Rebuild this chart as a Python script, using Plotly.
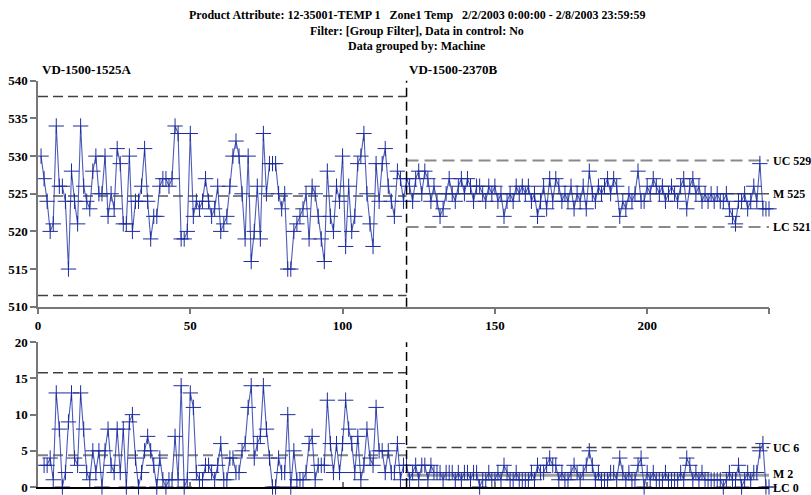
import numpy as np
import plotly.graph_objects as go

# ---------------- data ----------------
title_lines = [
    "Product Attribute: 12-35001-TEMP 1   Zone1 Temp   2/2/2003 0:00:00 - 2/8/2003 23:59:59",
    "Filter: [Group Filter], Data in control: No",
    "Data grouped by: Machine",
]
group_names = ["VD-1500-1525A", "VD-1500-2370B"]
group_bounds = [0, 121, 240]          # sample number where each machine group starts / ends

# individual readings, machine VD-1500-1525A (samples 1-120)
values_a = [
    530, 527, 524, 520, 521, 534, 526, 526, 524, 515,
    528, 524, 521, 534, 526, 524, 523, 528, 530, 525,
    525, 530, 522, 525, 523, 531, 529, 521, 521, 530,
    520, 524, 524, 526, 531, 524, 519, 522, 522, 526,
    527, 527, 526, 527, 534, 533, 519, 519, 520, 533,
    522, 524, 523, 524, 527, 524, 522, 523, 526, 520,
    521, 522, 526, 530, 532, 530, 525, 519, 530, 516,
    520, 526, 519, 533, 525, 529, 529, 529, 525, 523,
    525, 515, 515, 520, 521, 522, 523, 525, 519, 526,
    525, 522, 519, 516, 528, 522, 520, 526, 524, 530,
    518, 526, 520, 522, 529, 530, 533, 525, 521, 518,
    529, 524, 529, 531, 526, 524, 522, 528, 527, 524,
]
# individual readings, machine VD-1500-2370B (samples 121-240)
values_b = [
    527, 526, 524, 527, 528, 525, 528, 527, 524, 526,
    524, 522, 523, 525, 527, 525, 524, 526, 527, 525,
    527, 526, 524, 526, 526, 525, 524, 526, 525, 526,
    524, 525, 522, 524, 525, 524, 526, 525, 526, 525,
    526, 524, 525, 522, 524, 526, 523, 527, 524, 527,
    526, 524, 525, 524, 526, 523, 525, 524, 526, 523,
    528, 525, 524, 526, 525, 526, 527, 525, 527, 526,
    522, 524, 523, 525, 524, 525, 528, 524, 524, 526,
    525, 527, 526, 525, 526, 524, 525, 526, 525, 524,
    526, 527, 523, 526, 527, 525, 526, 524, 525, 524,
    525, 524, 525, 524, 524, 525, 523, 522, 521, 524,
    524, 525, 523, 524, 526, 524, 529, 523, 523, 523,
]

# control limits per group (individuals chart and moving-range chart)
x_ucl = [537.9, 529.4]
x_cl = [524.7, 525.0]
x_lcl = [511.5, 520.6]
mr_ucl = [15.8, 5.45]
mr_cl = [4.4, 1.62]
mr_lcl = [0.0, 0.0]
x_limit_labels = ["UC 529", "M 525", "LC 521"]
mr_limit_labels = ["UC 6", "M 2", "LC 0"]

x_ticks = [0, 50, 100, 150, 200, 240]
x_tick_text = ["0", "50", "100", "150", "200", ""]

# ---------------- build ----------------
values = np.array(values_a + values_b, dtype=float)
samples = np.arange(1, len(values) + 1)
moving_range = np.abs(np.diff(values))      # MR_i = |x_i - x_(i-1)|

SERIF = "Liberation Serif"
LINE_C = "rgba(45,62,170,0.85)"
MARK_C = "#1c2c9c"

fig = go.Figure()
fig.add_trace(go.Scatter(
    x=samples, y=values, mode="lines+markers", xaxis="x", yaxis="y",
    line=dict(color=LINE_C, width=1.1),
    marker=dict(symbol="cross-thin", size=11, color=MARK_C, line=dict(color=MARK_C, width=1)),
    cliponaxis=False, showlegend=False, hoverinfo="x+y"))
fig.add_trace(go.Scatter(
    x=samples[1:], y=moving_range, mode="lines+markers", xaxis="x2", yaxis="y2",
    line=dict(color=LINE_C, width=1.1),
    marker=dict(symbol="cross-thin", size=11, color=MARK_C, line=dict(color=MARK_C, width=1)),
    cliponaxis=False, showlegend=False, hoverinfo="x+y"))

shapes = []
styles_left = dict(lim=dict(color="#404040", width=1.5, dash="10px,5px"),
                   cl=dict(color="#808080", width=2, dash="10px,5px"))
styles_right = dict(lim=dict(color="#8a8a8a", width=2, dash="12px,6px"),
                    cl=dict(color="#555555", width=1.5, dash="solid"))
for g in range(2):
    st = styles_left if g == 0 else styles_right
    x0, x1 = group_bounds[g], group_bounds[g + 1]
    for yv, key in ((x_ucl[g], "lim"), (x_lcl[g], "lim"), (x_cl[g], "cl")):
        shapes.append(dict(type="line", xref="x", yref="y", x0=x0, x1=x1, y0=yv, y1=yv, line=st[key], layer="below"))
    mr_cl_style = st["cl"] if g == 0 else dict(color="#a0a0a0", width=3, dash="solid")
    shapes.append(dict(type="line", xref="x2", yref="y2", x0=x0, x1=x1, y0=mr_ucl[g], y1=mr_ucl[g],
                       line=dict(color="#404040", width=1.5, dash="10px,5px"), layer="below"))
    shapes.append(dict(type="line", xref="x2", yref="y2", x0=x0, x1=x1, y0=mr_cl[g], y1=mr_cl[g],
                       line=mr_cl_style, layer="below"))
# group divider
shapes.append(dict(type="line", xref="x", yref="y domain", x0=group_bounds[1], x1=group_bounds[1], y0=0, y1=1,
                   line=dict(color="black", width=1.5, dash="9px,5px")))
shapes.append(dict(type="line", xref="x2", yref="y2 domain", x0=group_bounds[1], x1=group_bounds[1], y0=0, y1=1,
                   line=dict(color="black", width=1.5, dash="9px,5px")))

ann = []
title_y = [1.1597, 1.1204, 1.0835]
for t, yy in zip(title_lines, title_y):
    ann.append(dict(text="<b>" + t + "</b>", xref="paper", yref="paper", x=0.5185, y=yy,
                    xanchor="center", yanchor="middle", showarrow=False,
                    font=dict(family=SERIF, size=12, color="black")))
ann.append(dict(text="<b>" + group_names[0] + "</b>", xref="x", yref="paper", x=group_bounds[0], y=1.0253,
                xanchor="left", yanchor="middle", xshift=2, showarrow=False,
                font=dict(family=SERIF, size=13, color="black")))
ann.append(dict(text="<b>" + group_names[1] + "</b>", xref="x", yref="paper", x=group_bounds[1], y=1.0253,
                xanchor="left", yanchor="middle", xshift=0, showarrow=False,
                font=dict(family=SERIF, size=13, color="black")))
for txt, yv in zip(x_limit_labels, [x_ucl[1], x_cl[1], x_lcl[1]]):
    ann.append(dict(text="<b>" + txt + "</b>", xref="paper", yref="y", x=1, y=yv, xanchor="left",
                    yanchor="middle", xshift=2, showarrow=False, font=dict(family=SERIF, size=12, color="black")))
for txt, yv, ys in zip(mr_limit_labels, [mr_ucl[1], mr_cl[1], mr_lcl[1]], [0, 1, -1]):
    ann.append(dict(text="<b>" + txt + "</b>", xref="paper", yref="y2", x=1, y=yv, xanchor="left",
                    yanchor="middle", xshift=2, yshift=ys, showarrow=False,
                    font=dict(family=SERIF, size=12, color="black")))

tickfont = dict(family=SERIF, size=13, color="black", weight="bold")
axis_common = dict(showgrid=False, zeroline=False, showline=True, linecolor="#777777", linewidth=1.5,
                   tickcolor="#777777", tickwidth=1.5, tickfont=tickfont, automargin=False)

fig.update_layout(
    width=811, height=495,
    margin=dict(l=38, r=42, t=80, b=8, autoexpand=False),
    paper_bgcolor="white", plot_bgcolor="white",
    xaxis=dict(domain=[0, 1], range=[group_bounds[0], group_bounds[-1]], anchor="y",
               tickvals=x_ticks, ticktext=x_tick_text, ticks="outside", ticklen=6, **axis_common),
    yaxis=dict(domain=[0.443, 0.998], range=[510, 540], dtick=5, anchor="x",
               ticks="outside", ticklen=6, **axis_common),
    xaxis2=dict(domain=[0, 1], range=[group_bounds[0], group_bounds[-1]], anchor="y2",
                tickvals=x_ticks, showticklabels=False, ticks="inside", ticklen=5, automargin=False,
                showgrid=False, zeroline=False, showline=True, linecolor="black", linewidth=1.5,
                tickcolor="#777777", tickwidth=1.5),
    yaxis2=dict(domain=[0, 0.3555], range=[0, 20], dtick=5, anchor="x2",
                ticks="outside", ticklen=6, **axis_common),
    shapes=shapes, annotations=ann,
    font=dict(family=SERIF),
)

fig.write_html("out.html")
